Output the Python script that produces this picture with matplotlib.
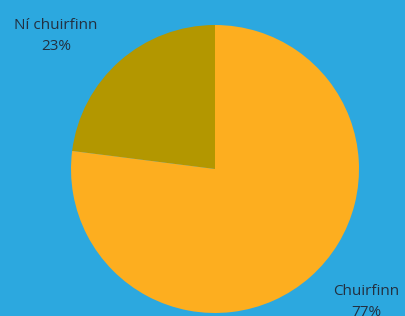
import matplotlib.pyplot as plt

labels = ['Ní chuirfinn', 'Chuirfinn']
values = [23, 77]
colors = ['#B39700', '#FDAE1F']

W, H = 405, 316
fig = plt.figure(figsize=(W / 100, H / 100), dpi=100)
fig.patch.set_facecolor('#2CA8DF')
ax = fig.add_axes([0, 0, 1, 1])

cx, cy, r = 215, H - 169, 144
ax.pie(values, colors=colors, startangle=90, counterclock=True,
       center=(cx, cy), radius=r, frame=True,
       wedgeprops=dict(linewidth=0))
ax.set_xlim(0, W)
ax.set_ylim(0, H)
ax.set_aspect('equal')
ax.axis('off')

# label positions (pixels from top-left)
pos = [(56, 36), (366, 302)]
for lab, v, (x, y) in zip(labels, values, pos):
    ax.text(x, H - y, f'{lab}\n{v}%', ha='center', va='center',
            fontsize=11, family='Open Sans', color='#233040',
            linespacing=1.5)

fig.savefig('out.png', dpi=100, facecolor=fig.get_facecolor())
